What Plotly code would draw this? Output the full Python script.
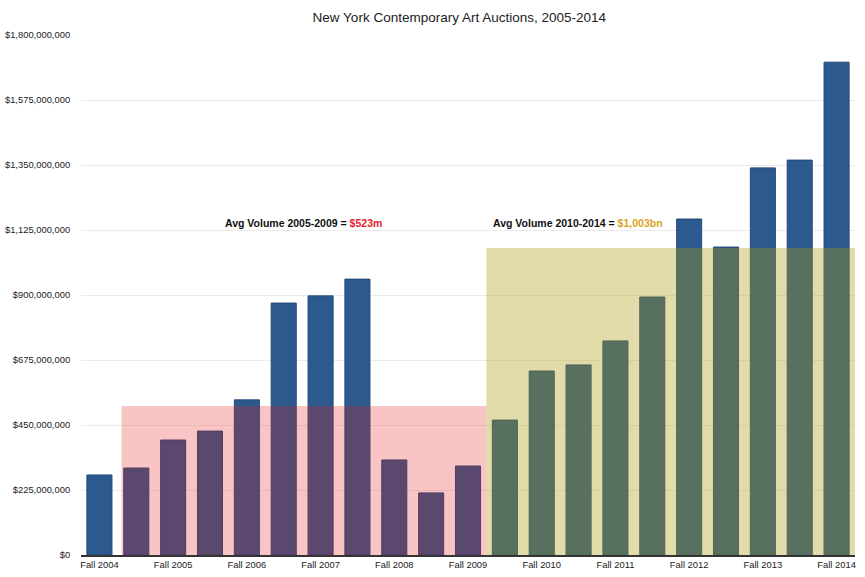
import plotly.graph_objects as go

categories = []
for yr in range(2004, 2015):
    if yr > 2004:
        categories.append(f"Spring {yr}")
    categories.append(f"Fall {yr}")

values = [277e6, 301e6, 398e6, 429e6, 537e6, 872e6, 897e6, 955e6, 329e6, 215e6,
          308e6, 467e6, 637e6, 658e6, 741e6, 893e6, 1163e6, 1066e6, 1340e6, 1367e6, 1706e6]

tick_vals = [c for c in categories if c.startswith("Fall")]
y_ticks = [i * 225e6 for i in range(9)]
y_tick_text = ["$0"] + [f"${v:,.0f}" for v in y_ticks[1:]]

avg1_level = 516e6   # band height as drawn
avg2_level = 1063e6

fig = go.Figure()
fig.add_trace(go.Bar(
    x=list(range(len(categories))), y=values,
    marker=dict(color="#2d5a8e", line=dict(color="#23497a", width=1)),
    width=0.68, hoverinfo="y",
))

fig.add_shape(type="rect", xref="x", yref="y", x0=0.6, x1=10.5, y0=0, y1=avg1_level,
              fillcolor="rgba(230,20,20,0.25)", line=dict(width=0), layer="above")
fig.add_shape(type="rect", xref="x", yref="y", x0=10.5, x1=20.5, y0=0, y1=avg2_level,
              fillcolor="rgba(169,154,11,0.35)", line=dict(width=0), layer="above")

fig.add_annotation(x=5.55, y=1149e6, xref="x", yref="y", showarrow=False,
                   text="<b>Avg Volume 2005-2009 = <span style='color:#e3202a'>$523m</span></b>",
                   font=dict(size=10.5, color="#111", family="Liberation Sans, Arial"),
                   xanchor="center", yanchor="middle")
fig.add_annotation(x=10.62, y=1149e6, xref="x", yref="y", showarrow=False,
                   text="<b>Avg Volume 2010-2014 = <span style='color:#dca21c'>$1,003bn</span></b>",
                   font=dict(size=10.5, color="#111", family="Liberation Sans, Arial"),
                   xanchor="left", yanchor="middle")

fig.update_layout(
    width=865, height=577,
    margin=dict(l=81, r=10, t=35, b=22, autoexpand=False),
    paper_bgcolor="white", plot_bgcolor="white",
    title=dict(text="New York Contemporary Art Auctions, 2005-2014", x=0.531, xanchor="center",
               y=0.970, yanchor="middle",
               font=dict(size=13.5, color="#222", family="Liberation Sans, Arial")),
    font=dict(family="Liberation Sans, Arial", size=10, color="#222"),
    showlegend=False, bargap=0.3,
)
fig.update_xaxes(
    range=[-0.5, 20.5], automargin=False,
    tickmode="array",
    tickvals=[categories.index(c) for c in tick_vals],
    ticktext=tick_vals,
    showgrid=False, showline=True, linecolor="#333", linewidth=1.5,
    ticks="", tickfont=dict(size=9.4),
)
fig.update_yaxes(
    range=[0, 1.8e9], automargin=False, tickmode="array", tickvals=y_ticks, ticktext=y_tick_text,
    showgrid=True, gridcolor="#ebebeb", gridwidth=1, zeroline=False,
    ticks="outside", ticklen=8, tickcolor="rgba(0,0,0,0)", tickfont=dict(size=9.4),
)

fig.write_html("out.html", config={"displayModeBar": False},
               post_script="document.body.style.margin='0px';")
